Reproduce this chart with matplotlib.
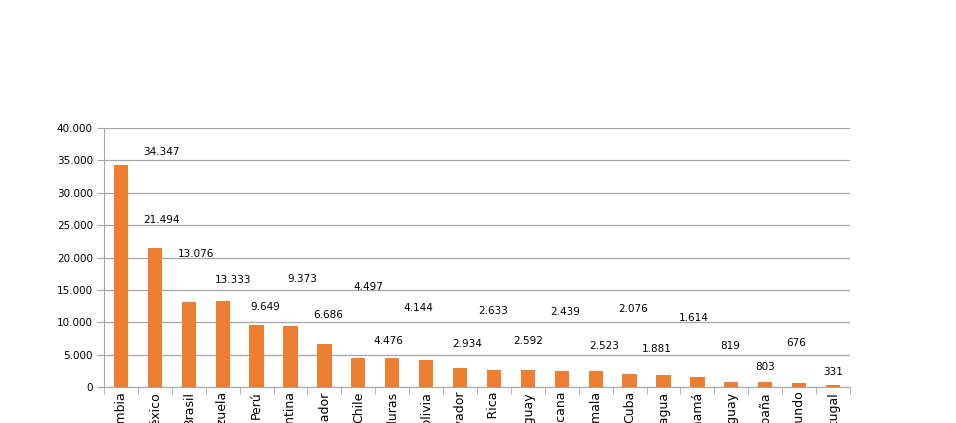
import matplotlib
matplotlib.use("Agg")
import matplotlib.pyplot as plt
from matplotlib.ticker import FuncFormatter, FixedLocator
import numpy as np

countries = ["Colombia", "México", "Brasil", "Venezuela", "Perú", "Argentina",
             "Ecuador", "Chile", "Honduras", "Bolivia", "El Salvador",
             "Costa Rica", "Paraguay", "Rep. Dominicana", "Guatemala", "Cuba",
             "Nicaragua", "Panamá", "Uruguay", "España", "Resto del mundo",
             "Portugal"]
values = [34347, 21494, 13076, 13333, 9649, 9373, 6686, 4497, 4476, 4144,
          2934, 2633, 2592, 2439, 2523, 2076, 1881, 1614, 819, 803, 676, 331]

# where the data labels sit (they float off the bars in the original)
label_x = [1.2, 1.2, 2.2, 3.3, 4.25, 5.35, 6.1, 7.3, 7.9, 8.76, 10.2, 10.97,
           12.0, 13.1, 14.25, 15.1, 15.8, 16.9, 17.97, 19.0, 19.9, 21.0]
label_y = [36300, 25800, 20540, 16525, 12355, 16680, 11120, 15440, 7100, 12200,
           6640, 11740, 7100, 11580, 6330, 12050, 5870, 10660, 6330, 3090,
           6800, 2320]

fig = plt.figure(figsize=(9.56, 4.23), dpi=100)
ax = fig.add_axes([0.1088, 0.0851, 0.7803, 0.6123])

x = np.arange(len(countries))
ax.bar(x, values, width=0.42, color="#ED7D31", zorder=3)

for lx, ly, v in zip(label_x, label_y, values):
    ax.text(lx, ly, f"{v:,}".replace(",", "."), ha="center", va="center",
            fontsize=7.5, color="#000000", zorder=4)

ax.set_xlim(-0.5, len(countries) - 0.5)
ax.set_ylim(0, 40000)
ax.set_yticks(np.arange(0, 40001, 5000))
ax.yaxis.set_major_formatter(FuncFormatter(lambda v, p: f"{int(v):,}".replace(",", ".")))
ax.grid(axis="y", color="#a6a6a6", linewidth=0.9, zorder=0)

ax.set_xticks(x)
ax.set_xticklabels(countries, rotation=90, va="top", ha="center", fontsize=9)
ax.tick_params(axis="x", length=0, pad=3)
ax.xaxis.set_minor_locator(FixedLocator(np.arange(-0.5, len(countries), 1)))
ax.tick_params(axis="x", which="minor", length=5, color="#a6a6a6")
ax.tick_params(axis="y", length=5, color="#a6a6a6", labelsize=7.5, pad=3)

for s in ["top", "right"]:
    ax.spines[s].set_visible(False)
ax.spines["left"].set_color("#a6a6a6")
ax.spines["bottom"].set_color("#a6a6a6")

fig.savefig("out.png", dpi=100)
